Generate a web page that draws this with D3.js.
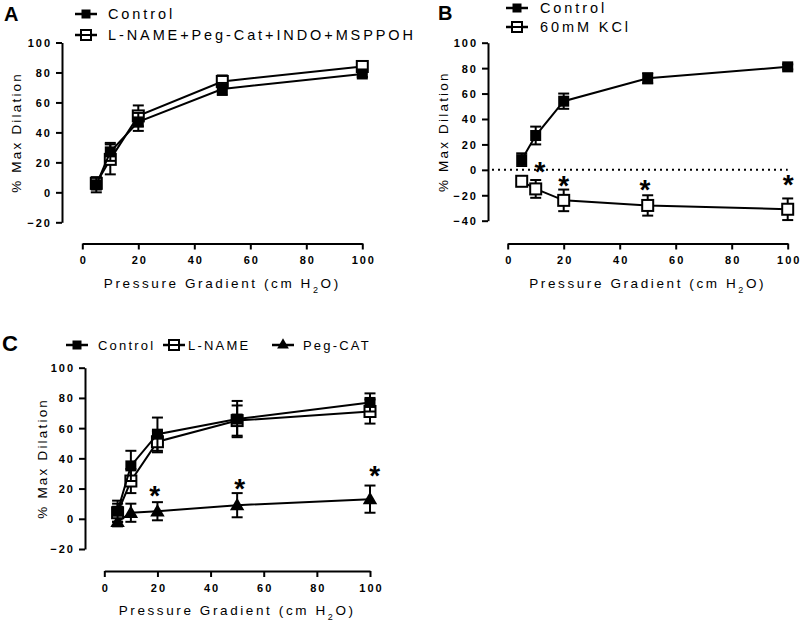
<!DOCTYPE html>
<html>
<head>
<meta charset="utf-8">
<script src="https://cdn.jsdelivr.net/npm/d3@7"></script>
<style>
  body { margin: 0; background: #fff; }
  svg { display: block; }
  text { font-family: "Liberation Sans", Arial, sans-serif; fill: #000; }
</style>
</head>
<body>
<svg id="chart" width="800" height="621"></svg>
<script>
// ---------- DATA ----------
const pressures = [5, 10, 20, 50, 100];
const xTickValues = [0, 20, 40, 60, 80, 100];

// Panel A
const aControlMean = [5, 27, 47, 69, 79];
const aControlSem  = [5, 6, 6, 4, 2];
const aComboMean   = [6, 22, 51, 74, 84];
const aComboSem    = [4, 10, 7, 4, 2];
const aYTicks = [-20, 0, 20, 40, 60, 80, 100];
const aLegend = ["Control", "L-NAME+Peg-Cat+INDO+MSPPOH"];

// Panel B
const bControlMean = [8, 27, 54, 72, 81];
const bControlSem  = [5, 7, 6, 4, 2];
const bKclMean     = [-9, -15, -24, -28, -31];
const bKclSem      = [2, 7, 8.5, 8, 8.5];
const bYTicks = [-40, -20, 0, 20, 40, 60, 80, 100];
const bLegend = ["Control", "60mM KCl"];
const bStarX = [11.5, 20, 49, 100.2];
const bStarY = [2, -8.5, -12, -8];

// Panel C
const cControlMean = [5, 35, 56, 66, 77];
const cControlSem  = [7, 10, 11, 12, 6];
const cLnameMean   = [4, 25, 51, 65, 71];
const cLnameSem    = [6, 8, 7, 10, 8];
const cPegMean     = [-2, 4, 5, 9, 13];
const cPegSem      = [3, 6, 6, 8, 9];
const cYTicks = [-20, 0, 20, 40, 60, 80, 100];
const cLegend = ["Control", "L-NAME", "Peg-CAT"];
const cStarX = [19, 51, 101.8];
const cStarY = [18.5, 23, 31.5];

const yTitle = "% Max Dilation";

// ---------- DRAWING ----------
const svg = d3.select("#chart");

function drawMarkerPlain(g, type, x, y) {
  if (type === "filled") {
    g.append("rect").attr("x", x - 5.5).attr("y", y - 5.5).attr("width", 11).attr("height", 11).attr("fill", "#000");
  } else if (type === "open") {
    g.append("rect").attr("x", x - 5.5).attr("y", y - 5.5).attr("width", 11).attr("height", 11)
      .attr("fill", "#fff").attr("stroke", "#000").attr("stroke-width", 2);
  } else {
    g.append("path").attr("d", d3.symbol(d3.symbolTriangle, 90)())
      .attr("transform", `translate(${x},${y + 1})`).attr("fill", "#000");
  }
}

function drawPanel(cfg) {
  const g = svg.append("g");
  const x = d3.scaleLinear().domain([0, 100]).range([cfg.x0, cfg.x1]);
  const y = d3.scaleLinear().domain(cfg.yDomain).range([cfg.yBottom, cfg.yTop]);

  // y axis
  const ya = g.append("g").attr("transform", `translate(${cfg.yAxisX},0)`)
    .call(d3.axisLeft(y).tickValues(cfg.yTicks).tickSize(6).tickSizeOuter(0).tickPadding(4));
  ya.select(".domain").attr("stroke-width", 2).attr("stroke", "#000");
  ya.selectAll(".tick line").attr("stroke-width", 2).attr("stroke", "#000");
  ya.selectAll(".tick text").attr("font-family", "Liberation Sans, Arial, sans-serif")
    .attr("font-size", 11).attr("font-weight", "bold").style("letter-spacing", "2px")
    .attr("fill", "#000").attr("dy", "0.36em");

  // x axis
  const xa = g.append("g").attr("transform", `translate(0,${cfg.xAxisY})`)
    .call(d3.axisBottom(x).tickValues(xTickValues).tickSize(6).tickSizeOuter(0).tickPadding(7));
  xa.select(".domain").attr("stroke-width", 2).attr("stroke", "#000");
  xa.selectAll(".tick line").attr("stroke-width", 2).attr("stroke", "#000");
  xa.selectAll(".tick text").attr("font-family", "Liberation Sans, Arial, sans-serif")
    .attr("font-size", 11).attr("font-weight", "bold").style("letter-spacing", "2px")
    .attr("fill", "#000").attr("dx", "1px");

  // axis titles
  const xt = g.append("text").attr("x", (cfg.x0 + cfg.x1) / 2).attr("y", cfg.xAxisY + 44)
    .attr("text-anchor", "middle").attr("font-size", 13.5).style("letter-spacing", "2.6px");
  xt.append("tspan").text("Pressure Gradient (cm H");
  xt.append("tspan").text("2").attr("font-size", 9).attr("baseline-shift", "sub");
  xt.append("tspan").text("O)");

  g.append("text").attr("transform", `translate(${cfg.yTitleX},${(cfg.yTop + cfg.yBottom) / 2}) rotate(-90)`)
    .attr("text-anchor", "middle").attr("dy", "0.35em").attr("font-size", 13.5)
    .style("letter-spacing", "2.2px").text(yTitle);

  // zero reference
  if (cfg.zeroLine) {
    g.append("line").attr("x1", cfg.yAxisX + 4).attr("x2", x(100)).attr("y1", y(0)).attr("y2", y(0))
      .attr("stroke", "#000").attr("stroke-width", 2).attr("stroke-dasharray", "2,4");
  }

  // series (draw in reverse so first series on top)
  cfg.series.slice().reverse().forEach(s => {
    const pts = pressures.map((p, i) => ({ p, m: s.mean[i], e: s.sem[i] }));
    g.append("path").datum(pts)
      .attr("d", d3.line().x(d => x(d.p)).y(d => y(d.m)))
      .attr("fill", "none").attr("stroke", "#000").attr("stroke-width", 2);
    pts.forEach(d => {
      const xx = x(d.p);
      g.append("line").attr("x1", xx).attr("x2", xx).attr("y1", y(d.m - d.e)).attr("y2", y(d.m + d.e))
        .attr("stroke", "#000").attr("stroke-width", 2);
      [d.m - d.e, d.m + d.e].forEach(v => {
        g.append("line").attr("x1", xx - 5.5).attr("x2", xx + 5.5).attr("y1", y(v)).attr("y2", y(v))
          .attr("stroke", "#000").attr("stroke-width", 2);
      });
    });
    pts.forEach(d => drawMarkerPlain(g, s.marker, x(d.p), y(d.m)));
  });

  // asterisks
  if (cfg.stars) {
    cfg.stars.x.forEach((sx, i) => {
      g.append("text").attr("x", x(sx)).attr("y", y(cfg.stars.y[i]) + 14)
        .attr("text-anchor", "middle").attr("font-size", 28).attr("font-weight", "bold").text("*");
    });
  }

  // legend
  cfg.legend.forEach((lg, i) => {
    g.append("line").attr("x1", lg.mx - 11).attr("x2", lg.mx + 11).attr("y1", lg.y).attr("y2", lg.y)
      .attr("stroke", "#000").attr("stroke-width", 2.5);
    if (lg.marker === "filled") {
      g.append("rect").attr("x", lg.mx - 4.5).attr("y", lg.y - 4.5).attr("width", 9).attr("height", 9).attr("fill", "#000");
    } else if (lg.marker === "open") {
      g.append("rect").attr("x", lg.mx - 5).attr("y", lg.y - 5).attr("width", 10).attr("height", 10)
        .attr("fill", "#fff").attr("stroke", "#000").attr("stroke-width", 2);
      g.append("line").attr("x1", lg.mx - 5).attr("x2", lg.mx + 5).attr("y1", lg.y).attr("y2", lg.y)
        .attr("stroke", "#000").attr("stroke-width", 2);
    } else {
      g.append("path").attr("d", d3.symbol(d3.symbolTriangle, 60)())
        .attr("transform", `translate(${lg.mx},${lg.y})`).attr("fill", "#000");
    }
    g.append("text").attr("x", lg.tx).attr("y", lg.y).attr("dy", "0.36em")
      .attr("font-size", cfg.legendSize).style("letter-spacing", cfg.legendSpacing + "px").text(lg.label);
  });

  // panel letter
  g.append("text").attr("x", cfg.letterX).attr("y", cfg.letterY)
    .attr("font-family", cfg.letterFont || "Liberation Sans, Arial, sans-serif")
    .attr("font-size", cfg.letterSize || 20).attr("font-weight", "bold").text(cfg.letter);
}

drawPanel({
  letter: "A", letterX: 4, letterY: 21, letterSize: 20,
  x0: 82.3, x1: 362.3, yAxisX: 62, yTop: 42.5, yBottom: 222.3, yDomain: [-20, 100],
  yTicks: aYTicks, xAxisY: 243.5, yTitleX: 16,
  legendSize: 14.5, legendSpacing: 2.9,
  series: [
    { mean: aControlMean, sem: aControlSem, marker: "filled" },
    { mean: aComboMean, sem: aComboSem, marker: "open" }
  ],
  legend: [
    { label: aLegend[0], marker: "filled", mx: 86, tx: 108, y: 14 },
    { label: aLegend[1], marker: "open", mx: 86, tx: 108, y: 35 }
  ]
});

drawPanel({
  letter: "B", letterX: 438, letterY: 20, letterSize: 20,
  x0: 507.7, x1: 787.7, yAxisX: 488, yTop: 42.7, yBottom: 220.7, yDomain: [-40, 100],
  yTicks: bYTicks, xAxisY: 243.5, yTitleX: 443, zeroLine: true,
  legendSize: 14.5, legendSpacing: 2.9,
  series: [
    { mean: bControlMean, sem: bControlSem, marker: "filled" },
    { mean: bKclMean, sem: bKclSem, marker: "open" }
  ],
  stars: { x: bStarX, y: bStarY },
  legend: [
    { label: bLegend[0], marker: "filled", mx: 517, tx: 540, y: 8 },
    { label: bLegend[1], marker: "open", mx: 517, tx: 540, y: 27 }
  ]
});

drawPanel({
  letter: "C", letterX: 2, letterY: 351, letterSize: 22, letterFont: "Open Sans, sans-serif",
  x0: 104.3, x1: 370, yAxisX: 85, yTop: 367.7, yBottom: 549, yDomain: [-20, 100],
  yTicks: cYTicks, xAxisY: 571, yTitleX: 42,
  legendSize: 13, legendSpacing: 2.2,
  series: [
    { mean: cControlMean, sem: cControlSem, marker: "filled" },
    { mean: cLnameMean, sem: cLnameSem, marker: "open" },
    { mean: cPegMean, sem: cPegSem, marker: "tri" }
  ],
  stars: { x: cStarX, y: cStarY },
  legend: [
    { label: cLegend[0], marker: "filled", mx: 77, tx: 98, y: 345 },
    { label: cLegend[1], marker: "open", mx: 174, tx: 188, y: 345 },
    { label: cLegend[2], marker: "tri", mx: 283, tx: 303, y: 345 }
  ]
});
</script>
</body>
</html>
